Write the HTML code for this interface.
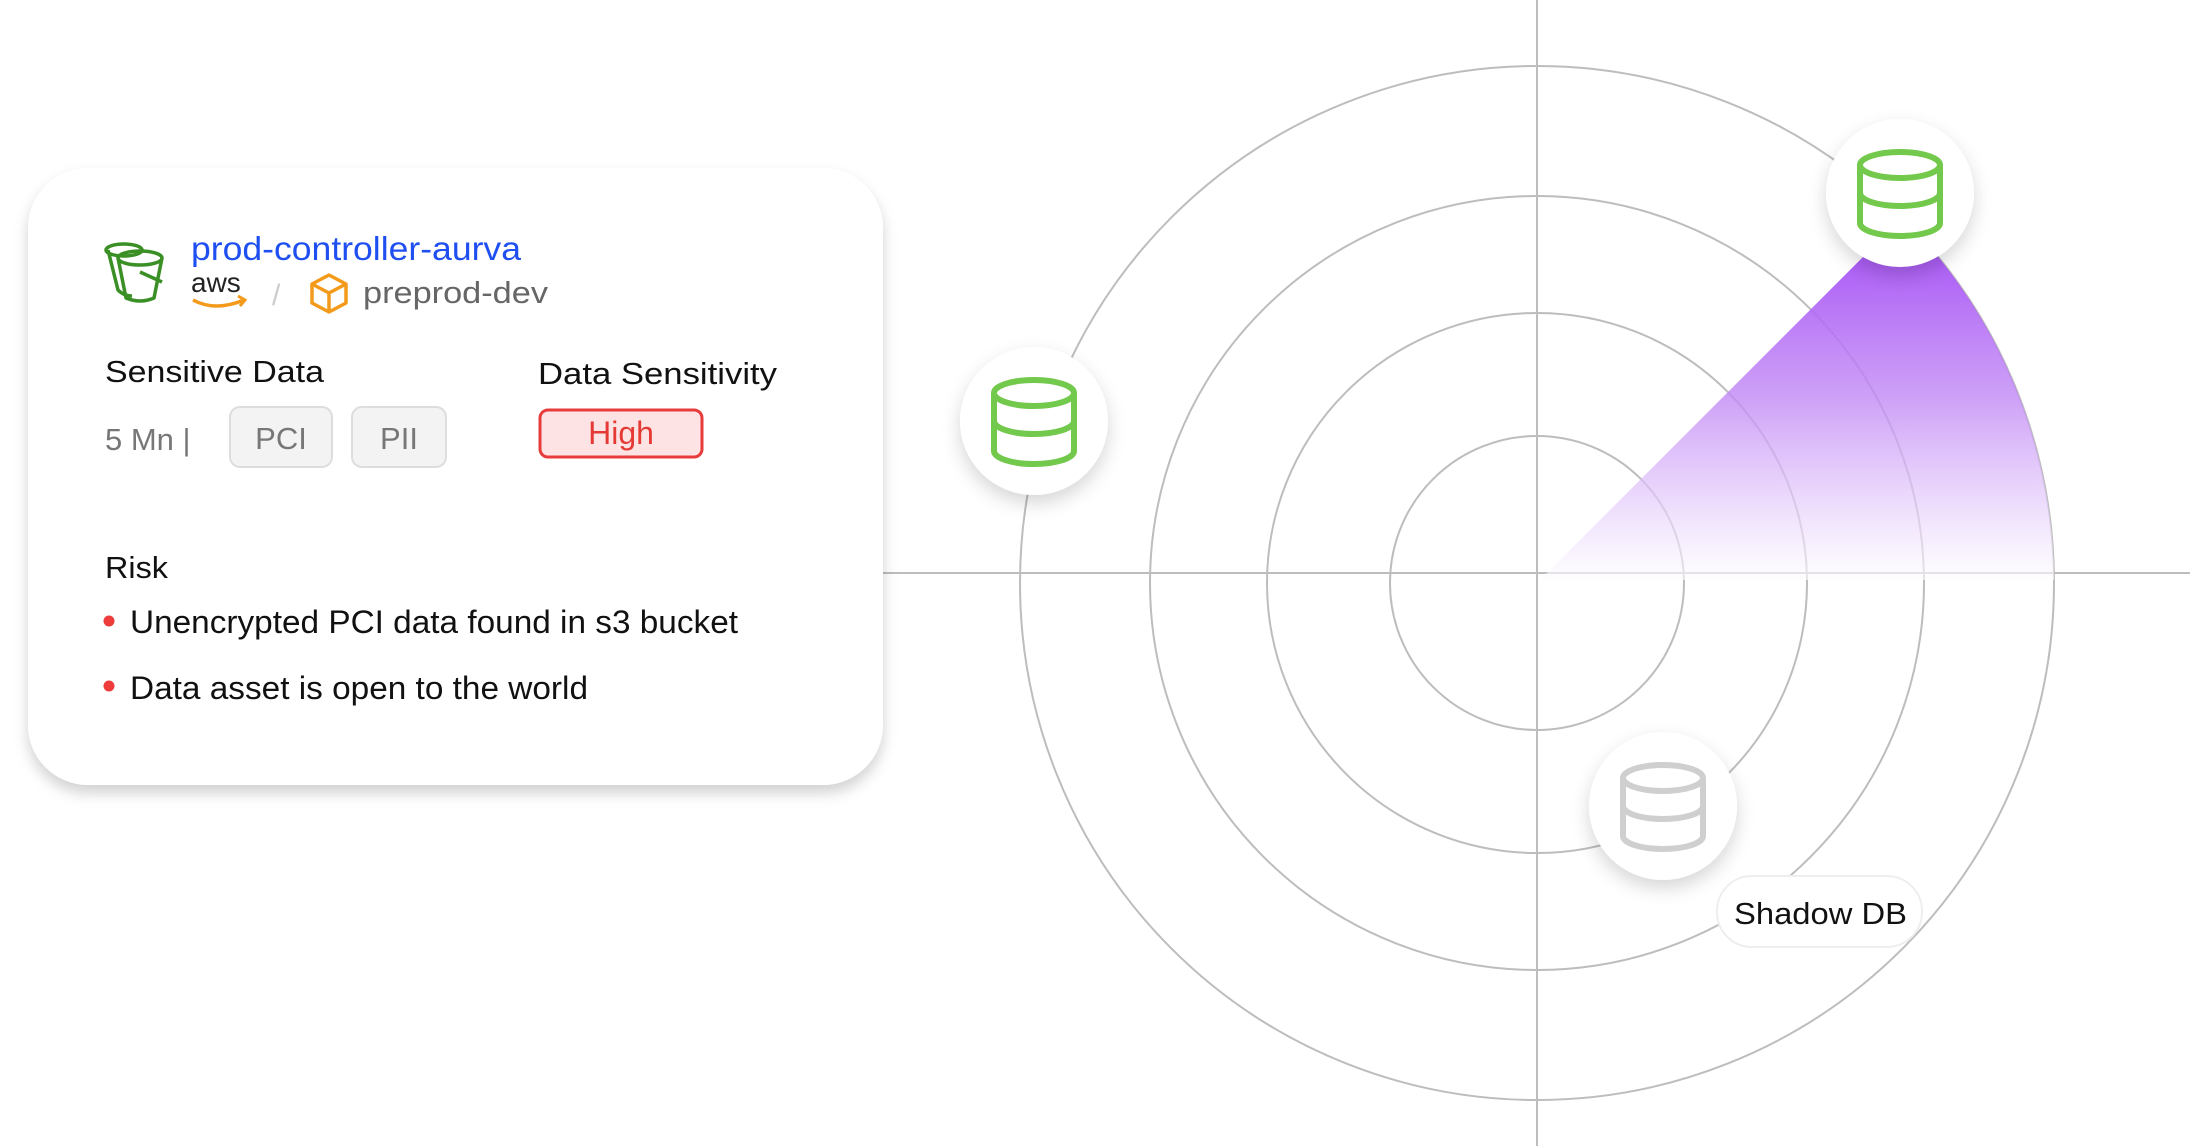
<!DOCTYPE html>
<html><head><meta charset="utf-8"><style>
html,body{margin:0;padding:0;background:#fff;}
svg{display:block;font-family:"Liberation Sans",sans-serif;}
</style></head><body>
<svg width="2190" height="1146" viewBox="0 0 2190 1146" xmlns="http://www.w3.org/2000/svg">
<defs>
<linearGradient id="wg" x1="0" y1="217" x2="0" y2="583" gradientUnits="userSpaceOnUse">
<stop offset="0" stop-color="#a046f5" stop-opacity="1"/>
<stop offset="0.5" stop-color="#c28af5" stop-opacity="0.8"/>
<stop offset="1" stop-color="#ffffff" stop-opacity="0.6"/>
</linearGradient>
<filter id="sh" x="-30%" y="-30%" width="160%" height="170%">
<feDropShadow dx="0" dy="8" stdDeviation="9" flood-color="#000" flood-opacity="0.16"/>
</filter>
<filter id="csh" x="-5%" y="-5%" width="110%" height="115%">
<feDropShadow dx="0" dy="8" stdDeviation="7" flood-color="#000" flood-opacity="0.18"/>
</filter>
<g id="db">
<ellipse cx="0" cy="-28" rx="40" ry="13" fill="none"/>
<path d="M-40,-28 V30 A40,13 0 0 0 40,30 V-28" fill="none"/>
<path d="M-40,0 A40,13 0 0 0 40,0" fill="none"/>
</g>
</defs>

<g fill="none" stroke="#bdbdbd" stroke-width="2">
<circle cx="1537" cy="583" r="517"/>
<circle cx="1537" cy="583" r="387"/>
<circle cx="1537" cy="583" r="270"/>
<circle cx="1537" cy="583" r="147"/>
<line x1="1537" y1="0" x2="1537" y2="1146"/>
<line x1="880" y1="573" x2="2190" y2="573"/>
</g>
<path d="M1540,580 L1902.6,217.4 A517 517 0 0 1 2054,580 Z" fill="url(#wg)"/>

<rect x="28" y="168" width="855" height="617" rx="60" fill="#fff" filter="url(#csh)"/>
<g fill="none" stroke="#3a8f25" stroke-width="3.5" stroke-linejoin="round">
<path d="M108,250 L118,290 Q124,296 132,296"/>
<ellipse cx="124" cy="250" rx="18" ry="6"/>
<ellipse cx="140" cy="258" rx="22" ry="7"/>
<path d="M118,258 L126,298 Q140,304 154,298 L162,258"/>
<path d="M140,272 L162,282"/>
</g>
<text x="191" y="260" font-size="33" fill="#1f4ff0" textLength="330" lengthAdjust="spacingAndGlyphs">prod-controller-aurva</text>
<text x="191" y="292" font-size="28" fill="#222">aws</text>
<path d="M193,300 Q215,312 244,300" fill="none" stroke="#f39a1b" stroke-width="3.5"/>
<path d="M238,296 L245,300 L240,306" fill="none" stroke="#f39a1b" stroke-width="3"/>
<text x="272" y="305" font-size="30" fill="#ccc">/</text>
<g fill="none" stroke="#f39a1b" stroke-width="3.5" stroke-linejoin="round">
<path d="M329,275 L346,284 L346,303 L329,312 L312,303 L312,284 Z"/>
<path d="M312,284 L329,293 L346,284 M329,293 L329,312"/>
</g>
<text x="363" y="303" font-size="31" fill="#666" textLength="185" lengthAdjust="spacingAndGlyphs">preprod-dev</text>

<text x="105" y="382" font-size="31" fill="#111" textLength="219" lengthAdjust="spacingAndGlyphs">Sensitive Data</text>
<text x="538" y="384" font-size="31" fill="#111" textLength="239" lengthAdjust="spacingAndGlyphs">Data Sensitivity</text>
<text x="105" y="450" font-size="31" fill="#777">5 Mn |</text>
<rect x="230" y="407" width="102" height="60" rx="10" fill="#f3f3f3" stroke="#ddd" stroke-width="2"/>
<text x="281" y="449" font-size="31" fill="#777" text-anchor="middle">PCI</text>
<rect x="352" y="407" width="94" height="60" rx="10" fill="#f3f3f3" stroke="#ddd" stroke-width="2"/>
<text x="399" y="449" font-size="31" fill="#777" text-anchor="middle">PII</text>
<rect x="540" y="410" width="162" height="47" rx="8" fill="#fde3e3" stroke="#e83b3b" stroke-width="3"/>
<text x="621" y="444" font-size="32" fill="#e53935" text-anchor="middle">High</text>

<text x="105" y="578" font-size="31" fill="#111" textLength="63" lengthAdjust="spacingAndGlyphs">Risk</text>
<circle cx="109" cy="621" r="5.5" fill="#ee3b3b"/>
<text x="130" y="633" font-size="32" fill="#111" textLength="608" lengthAdjust="spacingAndGlyphs">Unencrypted PCI data found in s3 bucket</text>
<circle cx="109" cy="686" r="5.5" fill="#ee3b3b"/>
<text x="130" y="699" font-size="32" fill="#111" textLength="458" lengthAdjust="spacingAndGlyphs">Data asset is open to the world</text>

<circle cx="1900" cy="193" r="74" fill="#fff" filter="url(#sh)"/>
<use href="#db" x="1900" y="193" stroke="#72c94c" stroke-width="6"/>
<circle cx="1034" cy="421" r="74" fill="#fff" filter="url(#sh)"/>
<use href="#db" x="1034" y="421" stroke="#72c94c" stroke-width="6"/>
<circle cx="1663" cy="806" r="74" fill="#fff" filter="url(#sh)"/>
<use href="#db" x="1663" y="806" stroke="#cfcfcf" stroke-width="6"/>
<rect x="1717" y="876" width="205" height="71" rx="35" fill="#fff" stroke="#eee" stroke-width="2"/>
<text x="1734" y="924" font-size="31" fill="#111" textLength="173" lengthAdjust="spacingAndGlyphs">Shadow DB</text>
</svg>
</body></html>
